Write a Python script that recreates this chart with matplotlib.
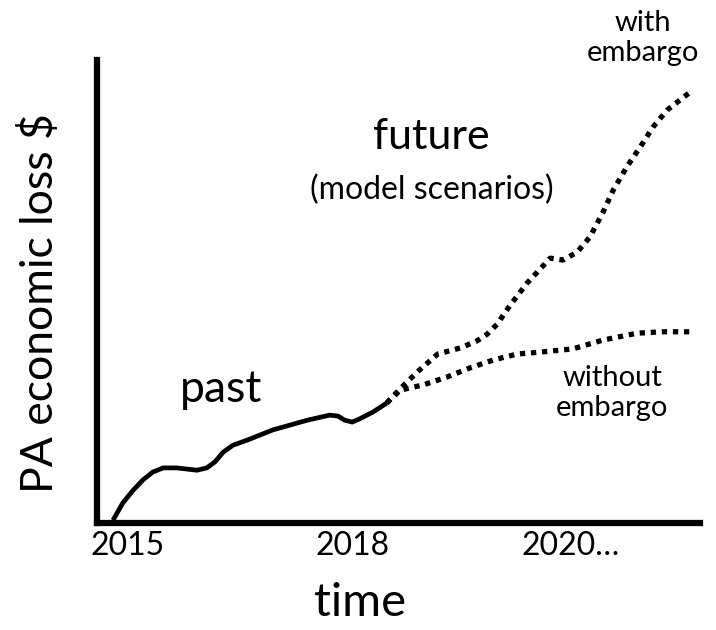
import matplotlib.pyplot as plt

# time in years, loss in arbitrary units (0-100)
PAST_T = [2014.80, 2014.93, 2015.07, 2015.20, 2015.33, 2015.47, 2015.65, 2015.92,
          2016.05, 2016.16, 2016.27, 2016.40, 2016.59, 2016.93, 2017.39, 2017.69,
          2017.80, 2017.89, 2017.99, 2018.09, 2018.27, 2018.45]
PAST_Y = [0.6, 4.3, 7.1, 9.3, 11.0, 11.9, 11.9, 11.4,
          11.9, 13.2, 15.3, 16.8, 17.9, 20.1, 22.2, 23.3,
          23.1, 22.2, 21.8, 22.5, 24.0, 25.9]

WITH_T = [2018.45, 2018.63, 2018.87, 2019.13, 2019.43, 2019.65, 2019.79, 2019.92,
          2020.09, 2020.32, 2020.63, 2020.80, 2020.99, 2021.16, 2021.33, 2021.47,
          2021.65, 2021.83, 2022.00, 2022.19, 2022.53]
WITH_Y = [25.9, 29.0, 32.8, 36.5, 37.8, 39.3, 40.8, 42.9,
          46.9, 51.8, 57.2, 56.8, 58.5, 61.8, 67.0, 71.9,
          76.9, 81.2, 85.5, 89.2, 93.5]

WITHOUT_T = [2018.45, 2018.63, 2018.93, 2019.25, 2019.56, 2019.87, 2020.19,
             2020.49, 2020.93, 2021.33, 2021.79, 2022.13, 2022.49]
WITHOUT_Y = [25.9, 28.7, 29.8, 31.5, 33.5, 35.2, 36.5,
             36.9, 37.6, 39.5, 41.0, 41.3, 41.3]

TICK_POS = [2015, 2018, 2020.9]
TICK_LABELS = ['2015', '2018', '2020…']

plt.rcParams['font.family'] = ['Lato', 'DejaVu Sans']

W, H = 716, 630
fig = plt.figure(figsize=(W / 100, H / 100), dpi=100)
ax = fig.add_axes([97 / W, 1 - 523 / H, 603 / W, 463 / H])

ax.plot(PAST_T, PAST_Y, color='black', linewidth=3.4,
        solid_joinstyle='round', solid_capstyle='butt')
ax.plot(WITH_T, WITH_Y, color='black', linewidth=3.8,
        linestyle=(0, (1, 1.1)), dash_capstyle='butt')
ax.plot(WITHOUT_T, WITHOUT_Y, color='black', linewidth=3.8,
        linestyle=(0, (1, 1.1)), dash_capstyle='butt')

ax.set_xlim(2014.587, 2022.627)
ax.set_ylim(0, 100)

for side in ['top', 'right']:
    ax.spines[side].set_visible(False)
for side in ['left', 'bottom']:
    ax.spines[side].set_linewidth(4.5)
    ax.spines[side].set_capstyle('projecting')

ax.set_yticks([])
ax.set_xticks(TICK_POS)
ax.set_xticklabels(TICK_LABELS, fontsize=23)
ax.tick_params(axis='x', length=0, pad=6)

ax.set_xlabel('time', fontsize=34, va='center')
ax.xaxis.set_label_coords((360 - 97) / 603, (523 - 603) / 463)
ax.set_ylabel('PA economic loss $', fontsize=32, va='center', ha='center')
ax.yaxis.set_label_coords((40 - 97) / 603, (523 - 303) / 463)

def ftext(px, py, s, size):
    fig.text(px / W, 1 - py / H, s, fontsize=size, ha='center', va='center',
             linespacing=1.2)

ftext(221, 389, 'past', 32)
ftext(431, 137, 'future', 31)
ftext(432, 190, '(model scenarios)', 23)
ftext(643, 38, 'with\nembargo', 21)
ftext(612, 393, 'without\nembargo', 21)

fig.savefig('out.png', dpi=100)
